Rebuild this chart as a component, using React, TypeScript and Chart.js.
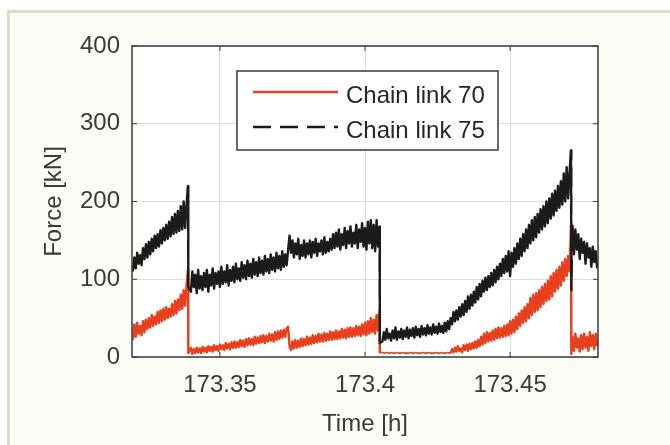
import { useEffect, useRef } from "react";
import { Chart, registerables } from "chart.js";

Chart.register(...registerables);

// Time samples [h]
const TIME = [
  // segment A
  173.3200, 173.3205, 173.3210, 173.3215, 173.3220, 173.3225, 173.3230, 173.3235, 173.3240, 173.3245,
  173.3250, 173.3255, 173.3260, 173.3265, 173.3270, 173.3275, 173.3280, 173.3285, 173.3290, 173.3295,
  173.3300, 173.3305, 173.3310, 173.3315, 173.3320, 173.3325, 173.3330, 173.3335, 173.3340, 173.3345,
  173.3350, 173.3355, 173.3360, 173.3365, 173.3370, 173.3375, 173.3380, 173.3385, 173.3390,
  173.3391,
  // segment B
  173.3400, 173.3405, 173.3410, 173.3415, 173.3420, 173.3425, 173.3430, 173.3435, 173.3440, 173.3445,
  173.3450, 173.3455, 173.3460, 173.3465, 173.3470, 173.3475, 173.3480, 173.3485, 173.3490, 173.3495,
  173.3500, 173.3505, 173.3510, 173.3515, 173.3520, 173.3525, 173.3530, 173.3535, 173.3540, 173.3545,
  173.3550, 173.3555, 173.3560, 173.3565, 173.3570, 173.3575, 173.3580, 173.3585, 173.3590, 173.3595,
  173.3600, 173.3605, 173.3610, 173.3615, 173.3620, 173.3625, 173.3630, 173.3635, 173.3640, 173.3645,
  173.3650, 173.3655, 173.3660, 173.3665, 173.3670, 173.3675, 173.3680, 173.3685, 173.3690, 173.3695,
  173.3700, 173.3705, 173.3710, 173.3715, 173.3720, 173.3725, 173.3730, 173.3735, 173.3740, 173.3745,
  173.3750, 173.3755, 173.3760, 173.3765, 173.3770, 173.3775, 173.3780, 173.3785, 173.3790, 173.3795,
  173.3800, 173.3805, 173.3810, 173.3815, 173.3820, 173.3825, 173.3830, 173.3835, 173.3840, 173.3845,
  173.3850, 173.3855, 173.3860, 173.3865, 173.3870, 173.3875, 173.3880, 173.3885, 173.3890, 173.3895,
  173.3900, 173.3905, 173.3910, 173.3915, 173.3920, 173.3925, 173.3930, 173.3935, 173.3940, 173.3945,
  173.3950, 173.3955, 173.3960, 173.3965, 173.3970, 173.3975, 173.3980, 173.3985, 173.3990, 173.3995,
  173.4000, 173.4005, 173.4010, 173.4015, 173.4020, 173.4025, 173.4030, 173.4035, 173.4040, 173.4045,
  173.4050,
  173.4051,
  // segment C
  173.4060, 173.4065, 173.4070, 173.4075, 173.4080, 173.4085, 173.4090, 173.4095, 173.4100, 173.4105,
  173.4110, 173.4115, 173.4120, 173.4125, 173.4130, 173.4135, 173.4140, 173.4145, 173.4150, 173.4155,
  173.4160, 173.4165, 173.4170, 173.4175, 173.4180, 173.4185, 173.4190, 173.4195, 173.4200, 173.4205,
  173.4210, 173.4215, 173.4220, 173.4225, 173.4230, 173.4235, 173.4240, 173.4245, 173.4250, 173.4255,
  173.4260, 173.4265, 173.4270, 173.4275, 173.4280, 173.4285, 173.4290, 173.4295, 173.4300, 173.4305,
  173.4310, 173.4315, 173.4320, 173.4325, 173.4330, 173.4335, 173.4340, 173.4345, 173.4350, 173.4355,
  173.4360, 173.4365, 173.4370, 173.4375, 173.4380, 173.4385, 173.4390, 173.4395, 173.4400, 173.4405,
  173.4410, 173.4415, 173.4420, 173.4425, 173.4430, 173.4435, 173.4440, 173.4445, 173.4450, 173.4455,
  173.4460, 173.4465, 173.4470, 173.4475, 173.4480, 173.4485, 173.4490, 173.4495, 173.4500, 173.4505,
  173.4510, 173.4515, 173.4520, 173.4525, 173.4530, 173.4535, 173.4540, 173.4545, 173.4550, 173.4555,
  173.4560, 173.4565, 173.4570, 173.4575, 173.4580, 173.4585, 173.4590, 173.4595, 173.4600, 173.4605,
  173.4610, 173.4615, 173.4620, 173.4625, 173.4630, 173.4635, 173.4640, 173.4645, 173.4650, 173.4655,
  173.4660, 173.4665, 173.4670, 173.4675, 173.4680, 173.4685, 173.4690, 173.4695, 173.4700, 173.4705,
  173.4710,
  173.4711,
  // segment D
  173.4715, 173.4720, 173.4725, 173.4730, 173.4735, 173.4740, 173.4745, 173.4750, 173.4755, 173.4760,
  173.4765, 173.4770, 173.4775, 173.4780, 173.4785, 173.4790, 173.4795, 173.4800,
];

// Force [kN], chain link 70 (red, solid)
const CHAIN_LINK_70 = [
  22, 42, 26, 44, 30, 40, 28, 46, 32, 48,
  36, 50, 38, 54, 40, 52, 42, 58, 44, 60,
  46, 62, 48, 64, 50, 62, 52, 68, 54, 72,
  56, 74, 60, 80, 62, 86, 66, 92, 113,
  5,
  12, 4, 10, 5, 12, 6, 11, 5, 13, 7,
  12, 6, 14, 8, 13, 7, 15, 9, 14, 8,
  16, 10, 15, 9, 18, 11, 17, 10, 19, 12,
  20, 12, 19, 13, 22, 14, 21, 13, 23, 15,
  24, 16, 23, 15, 26, 17, 25, 18, 27, 19,
  28, 18, 27, 20, 30, 21, 29, 20, 32, 22,
  33, 23, 34, 25, 35, 26, 37, 39, 14, 9,
  20, 11, 22, 12, 21, 13, 24, 14, 23, 15,
  26, 16, 25, 17, 28, 18, 27, 19, 30, 20,
  29, 20, 31, 21, 30, 22, 33, 22, 32, 23,
  34, 23, 33, 24, 36, 25, 35, 24, 37, 26,
  38, 26, 37, 27, 40, 28, 39, 27, 42, 29,
  44, 28, 46, 30, 50, 32, 48, 30, 54, 34,
  58,
  6,
  6, 5, 5, 6, 5, 5, 6, 5, 5, 5,
  6, 5, 5, 5, 6, 5, 5, 5, 5, 6,
  5, 5, 5, 6, 5, 5, 5, 5, 6, 5,
  5, 5, 6, 5, 5, 5, 5, 6, 5, 5,
  5, 6, 5, 5, 5, 6, 5, 5, 10, 6,
  12, 7, 14, 8, 11, 6, 15, 9, 16, 8,
  17, 10, 18, 11, 20, 12, 22, 14, 26, 16,
  30, 18, 32, 20, 31, 21, 34, 22, 36, 24,
  38, 25, 37, 26, 40, 27, 42, 28, 46, 30,
  48, 32, 52, 36, 56, 40, 60, 44, 64, 46,
  68, 50, 76, 54, 80, 58, 82, 60, 86, 64,
  90, 68, 94, 72, 98, 74, 104, 78, 108, 84,
  112, 88, 116, 92, 122, 98, 126, 104, 130, 110,
  170,
  4,
  26, 8, 30, 12, 24, 7, 28, 10, 30, 12,
  26, 8, 32, 14, 28, 10, 30, 14,
];

// Force [kN], chain link 75 (black, dashed)
const CHAIN_LINK_75 = [
  110, 128, 114, 134, 120, 131, 118, 140, 126, 145,
  128, 148, 132, 152, 136, 156, 140, 158, 142, 163,
  146, 166, 150, 170, 152, 174, 155, 180, 158, 184,
  160, 188, 162, 194, 164, 200, 166, 196, 220,
  90,
  84, 110, 90, 106, 82, 112, 88, 104, 86, 108,
  90, 112, 84, 106, 92, 114, 88, 108, 94, 110,
  90, 116, 94, 110, 96, 118, 92, 112, 98, 116,
  96, 120, 100, 114, 98, 122, 102, 118, 100, 124,
  104, 120, 102, 126, 106, 122, 104, 128, 108, 124,
  106, 130, 110, 126, 108, 132, 112, 128, 110, 134,
  114, 130, 112, 136, 116, 132, 118, 138, 156, 134,
  150, 128, 146, 132, 152, 126, 144, 130, 150, 128,
  146, 132, 150, 128, 148, 134, 152, 130, 146, 136,
  150, 132, 154, 134, 148, 136, 152, 138, 158, 140,
  160, 142, 164, 138, 158, 144, 166, 140, 162, 146,
  168, 142, 160, 146, 170, 140, 164, 148, 172, 142,
  166, 138, 174, 146, 176, 140, 170, 136, 176, 142,
  168,
  18,
  20, 32, 22, 36, 24, 30, 21, 34, 24, 38,
  22, 33, 25, 36, 23, 34, 26, 38, 24, 35,
  27, 37, 25, 39, 28, 36, 26, 40, 29, 37,
  28, 41, 30, 38, 29, 42, 31, 39, 30, 43,
  32, 40, 31, 44, 33, 46, 36, 50, 42, 58,
  46, 60, 48, 64, 52, 68, 54, 72, 58, 78,
  62, 80, 66, 84, 70, 90, 74, 94, 78, 98,
  84, 102, 86, 104, 90, 108, 92, 112, 96, 116,
  100, 120, 104, 126, 108, 130, 110, 136, 104, 134,
  116, 140, 120, 146, 126, 152, 130, 158, 136, 164,
  140, 170, 146, 176, 150, 180, 154, 184, 160, 190,
  164, 194, 168, 200, 172, 204, 178, 210, 182, 214,
  188, 220, 192, 226, 196, 236, 200, 244, 204, 238,
  266,
  86,
  170, 132, 164, 138, 158, 126, 152, 134, 148, 120,
  146, 128, 140, 116, 142, 122, 136, 114,
];

const SERIES_NAMES = ["Chain link 70", "Chain link 75"];
const X_TICKS = [173.35, 173.4, 173.45];
const X_TICK_LABELS = ["173.35", "173.4", "173.45"];
const X_MIN = 173.3197;
const X_MAX = 173.4803;
const Y_MIN = 0;
const Y_MAX = 400;
const Y_STEP = 100;
const X_TITLE = "Time [h]";
const Y_TITLE = "Force [kN]";

const FONT = "'Liberation Sans', Arial, Helvetica, sans-serif";
const TEXT_COLOR = "#3a3a3a";
const AXIS_COLOR = "#3a3a3a";
const GRID_COLOR = "#dcdcdc";
const RED = "#e8401c";
const BLACK = "#1b1b1b";
const DASH = [18, 9];

const framePlugin = {
  id: "frameAndLegend",
  beforeDraw(chart: any) {
    const { ctx, chartArea: a } = chart;
    ctx.save();
    ctx.fillStyle = "#ffffff";
    ctx.fillRect(a.left, a.top, a.right - a.left, a.bottom - a.top);
    ctx.restore();
  },
  afterDatasetsDraw(chart: any) {
    const { ctx, chartArea: a } = chart;
    const xs = chart.scales.x;
    const ys = chart.scales.y;
    ctx.save();
    ctx.strokeStyle = AXIS_COLOR;
    ctx.lineWidth = 1.5;
    ctx.strokeRect(a.left, a.top, a.right - a.left, a.bottom - a.top);
    ctx.lineWidth = 1;
    ctx.beginPath();
    ys.ticks.forEach((t: any) => {
      const y = ys.getPixelForValue(t.value);
      ctx.moveTo(a.left, y);
      ctx.lineTo(a.left + 5, y);
      ctx.moveTo(a.right, y);
      ctx.lineTo(a.right - 5, y);
    });
    xs.ticks.forEach((t: any) => {
      const x = xs.getPixelForValue(t.value);
      ctx.moveTo(x, a.bottom);
      ctx.lineTo(x, a.bottom - 5);
      ctx.moveTo(x, a.top);
      ctx.lineTo(x, a.top + 5);
    });
    ctx.stroke();

    const lx = a.left + 105;
    const ly = a.top + 25;
    const lw = 261;
    const lh = 79;
    ctx.fillStyle = "#ffffff";
    ctx.fillRect(lx, ly, lw, lh);
    ctx.strokeStyle = AXIS_COLOR;
    ctx.lineWidth = 1.5;
    ctx.strokeRect(lx, ly, lw, lh);
    chart.data.datasets.forEach((ds: any, i: number) => {
      const y = ly + 21 + i * 35;
      ctx.beginPath();
      ctx.strokeStyle = ds.borderColor;
      ctx.lineWidth = 2.5;
      ctx.setLineDash(ds.legendDash || []);
      ctx.moveTo(lx + 16, y);
      ctx.lineTo(lx + 101, y);
      ctx.stroke();
      ctx.setLineDash([]);
      ctx.fillStyle = "#262626";
      ctx.font = `24px ${FONT}`;
      ctx.textBaseline = "middle";
      ctx.textAlign = "left";
      ctx.fillText(ds.label, lx + 109, y + 4);
    });
    ctx.restore();
  },
};

export default function App() {
  const canvasRef = useRef<HTMLCanvasElement | null>(null);

  useEffect(() => {
    const canvas = canvasRef.current;
    if (!canvas) return;
    const red = TIME.map((t, i) => ({ x: t, y: CHAIN_LINK_70[i] }));
    const black = TIME.map((t, i) => ({ x: t, y: CHAIN_LINK_75[i] }));
    const chart = new Chart(canvas, {
      type: "line",
      data: {
        datasets: [
          {
            label: SERIES_NAMES[0],
            data: red,
            borderColor: RED,
            borderWidth: 2.4,
            borderJoinStyle: "round",
            pointRadius: 0,
            tension: 0,
            order: 1,
            legendDash: [],
            segment: {
              borderWidth: (c: any) =>
                c.p0.parsed.y < 8 && c.p1.parsed.y < 8 ? 1.6 : 2.4,
            },
          } as any,
          {
            label: SERIES_NAMES[1],
            data: black,
            borderColor: BLACK,
            borderWidth: 2.4,
            borderJoinStyle: "round",
            pointRadius: 0,
            tension: 0,
            order: 0,
            legendDash: DASH,
            segment: {
              borderDash: (c: any) =>
                Math.abs(c.p1.parsed.y - c.p0.parsed.y) > 50 ? DASH : [],
            },
          } as any,
        ],
      },
      options: {
        animation: false,
        responsive: false,
        devicePixelRatio: 1,
        events: [],
        layout: { padding: { top: 46, right: 72, bottom: 0, left: 0 } },
        plugins: { legend: { display: false }, tooltip: { enabled: false } },
        scales: {
          x: {
            type: "linear",
            min: X_MIN,
            max: X_MAX,
            afterBuildTicks: (s: any) => {
              s.ticks = X_TICKS.map((v) => ({ value: v }));
            },
            afterFit: (s: any) => {
              s.height = 88;
            },
            ticks: {
              autoSkip: false,
              maxRotation: 0,
              padding: 14,
              color: TEXT_COLOR,
              font: { family: FONT, size: 24 },
              callback: (v: any) => {
                const i = X_TICKS.indexOf(Number(v));
                return i >= 0 ? X_TICK_LABELS[i] : "";
              },
            },
            grid: { color: GRID_COLOR, lineWidth: 1, drawTicks: false },
            border: { display: false },
            title: {
              display: true,
              text: X_TITLE,
              color: TEXT_COLOR,
              font: { family: FONT, size: 24 },
              padding: { top: 0, bottom: 6 },
            },
          },
          y: {
            type: "linear",
            min: Y_MIN,
            max: Y_MAX,
            afterFit: (s: any) => {
              s.width = 132;
            },
            ticks: {
              stepSize: Y_STEP,
              padding: 12,
              color: TEXT_COLOR,
              font: { family: FONT, size: 24 },
            },
            grid: { color: GRID_COLOR, lineWidth: 1, drawTicks: false },
            border: { display: false },
            title: {
              display: true,
              text: Y_TITLE,
              color: TEXT_COLOR,
              font: { family: FONT, size: 24 },
              padding: { top: 40, bottom: 0 },
            },
          },
        },
      },
      plugins: [framePlugin],
    });
    return () => chart.destroy();
  }, []);

  return (
    <div
      style={{
        position: "fixed",
        left: 0,
        top: 0,
        width: 670,
        height: 445,
        overflow: "hidden",
        background: "#ffffff",
      }}
    >
      <div
        style={{
          position: "absolute",
          left: 7,
          top: 10,
          width: 700,
          height: 480,
          border: "3px solid #dcdcc6",
          background: "#fcfcf6",
        }}
      />
      <canvas
        ref={canvasRef}
        width={670}
        height={445}
        style={{ position: "absolute", left: 0, top: 0, width: 670, height: 445 }}
      />
    </div>
  );
}
